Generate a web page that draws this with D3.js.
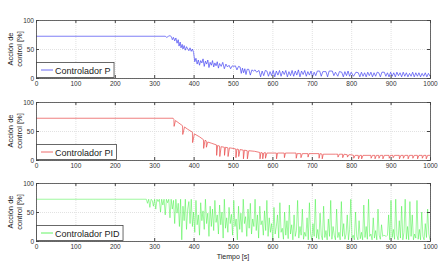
<!DOCTYPE html>
<html>
<head>
<meta charset="utf-8">
<script src="https://cdn.jsdelivr.net/npm/d3@7"></script>
<style>
body { margin: 0; background: #fff; }
svg { display: block; font-family: "Liberation Sans", Arial, sans-serif; }
</style>
</head>
<body>
<div id="plot"></div>
<script>
var w = 440;
var h = 272;

var xTicks = [0, 100, 200, 300, 400, 500, 600, 700, 800, 900, 1000];
var yTicks = [0, 50, 100];
var legendLabels = ["Controlador P", "Controlador PI", "Controlador PID"];
var yLabel = ["Acción de", "control [%]"];
var xLabel = "Tiempo [s]";

// controlador P: [tiempo, accion]
var pData = [
    [0,72],[328,72],[332,70],[336,72],[340,73],[344,71],[346,66],[349,70],[352,64],[355,69],
    [358,60],[361,66],[363,55],[366,62],[368,52],[371,58],[373,50],[376,56],[379,48],[382,54],
    [385,50],[388,47],[391,52],[394,46],[397,50],[400,44],[403,28],[406,34],[409,24],[412,31],
    [415,22],[418,30],[421,26],[424,33],[427,20],[430,29],[433,24],[436,31],[439,18],[442,27],
    [445,22],[448,30],[451,19],[454,26],[457,21],[460,28],[463,17],[466,25],[470,20],[474,27],
    [478,16],[482,24],[486,19],[490,22],[494,16],[498,21],[502,20],[506,21],[510,14],[514,20],
    [518,19],[521,8],[524,17],[527,9],[530,16],[533,6],[536,15],[540,15],[544,5],[548,14],
    [552,12],[556,14],[560,10],[566,13],[570,2],[574,12],[578,4],[582,13],[586,12],[590,3],
    [594,11],[598,4],[602,13],[606,2],[610,12],[614,5],[618,13],[622,3],[626,12],[630,6],
    [634,13],[638,2],[642,11],[646,4],[650,13],[654,3],[658,12],[662,5],[666,14],[670,2],
    [674,12],[678,6],[682,13],[686,3],[690,11],[694,5],[698,12],[702,2],[706,10],[710,4],
    [714,12],[720,12],[724,3],[728,11],[736,11],[740,2],[744,12],[752,12],[756,4],[760,10],
    [766,3],[770,11],[776,10],[780,2],[784,11],[788,4],[792,12],[796,3],[800,10],[806,3],
    [812,10],[818,9],[822,2],[826,10],[830,3],[834,9],[838,2],[842,10],[846,4],[850,10],
    [854,2],[858,9],[862,3],[866,10],[870,9],[874,2],[878,10],[884,10],[888,3],[892,9],
    [896,2],[900,10],[904,3],[908,9],[912,2],[916,10],[920,4],[924,9],[928,2],[932,10],
    [936,3],[940,9],[944,2],[948,8],[952,3],[956,10],[960,2],[964,9],[968,3],[972,9],
    [976,2],[980,8],[984,3],[988,9],[992,2],[996,8],[1000,3]
];

// controlador PI: [tiempo, accion]
var piData = [
    [0,72],[348,72],[350,70],[350.5,58],[354,68],[372,59],[372.5,44],[377,57],[385,53],[397,48],
    [397.5,30],[402,45],[415,40],[425,35],[425.5,20],[429,34],[432,33],[432.5,22],[436,31],[445,29],
    [458,26],[458.5,8],[461,25],[466,24],[466.5,6],[470,23],[478,22],[478.5,8],[481,22],[487,21],
    [487.5,6],[491,21],[500,20],[507,19],[507.5,4],[510,19],[514,18],[514.5,6],[518,18],[526,17],
    [526.5,2],[529,17],[536,16],[536.5,2],[540,16],[555,15],[568,13],[568.5,2],[571,13],[575,12],
    [575.5,2],[578,12],[582,13],[582.5,3],[586,12],[600,12],[610,12],[610.5,2],[613,12],[630,12],
    [630.5,4],[633,12],[660,12],[660.5,3],[663,11],[672,11],[672.5,4],[676,11],[690,11],[690.5,5],
    [693,11],[718,11],[718.5,3],[721,11],[726,10],[726.5,2],[729,10],[760,10],[766,10],[766.5,5],
    [770,10],[778,10],[778.5,4],[782,10],[790,9],[790.5,5],[794,9],[800,9],[806,8],[806.5,3],
    [810,8],[818,8],[818.5,2],[822,8],[826,8],[826.5,2],[830,8],[850,8],[850.5,3],[854,8],
    [860,8],[860.5,2],[864,8],[870,8],[870.5,3],[874,8],[880,8],[880.5,2],[884,8],[896,8],
    [896.5,3],[900,8],[906,8],[906.5,4],[910,8],[922,8],[922.5,2],[926,8],[932,8],[932.5,3],
    [936,8],[944,8],[944.5,2],[948,8],[956,8],[956.5,3],[960,8],[968,8],[968.5,2],[972,8],
    [980,8],[980.5,3],[984,8],[990,8],[990.5,2],[994,8],[1000,8]
];

// controlador PID: 72 % hasta 280 s, luego muestras cada 3 s
var pidStart = 280;
var pidStep = 3;
var pidValues = [
    72,65,72,58,72,70,60,72,55,72,68,72,50,72,62,72,45,72,66,72,
    40,72,55,70,30,72,48,65,25,72,2,60,35,72,20,55,68,30,72,25,
    50,15,70,28,45,10,66,35,52,20,72,30,48,8,60,25,55,18,70,32,
    45,12,62,28,50,5,72,22,40,15,58,30,46,10,70,25,38,2,60,20,
    48,15,72,30,42,8,55,22,65,12,38,25,72,18,45,5,60,28,35,10,
    52,18,70,8,40,15,30,2,58,12,25,45,5,66,15,22,3,50,10,35,
    4,62,12,28,2,45,8,18,70,5,25,10,55,3,15,8,40,2,66,12,
    2,30,8,72,5,20,3,48,10,2,60,6,18,2,38,8,70,3,25,10,
    2,55,6,15,2,68,8,30,3,12,45,2,20,72,5,10,2,50,8,2,
    35,4,15,2,62,6,25,3,72,8,12,2,40,5,18,2,55,10,3,28,
    8,10,9,8,10,45,2,70,6,20,3,72,10,2,35,5,60,2,15,72,
    3,25,2,68,8,45,2,12,5,70,3,20,2,50,8,2,30,6,55,12,
    2
];

var pidData = [[0, 72]].concat(pidValues.map(function(v, i) {
    return [pidStart + i * pidStep, v];
}));

var series = [pData, piData, pidData];
var colors = ["#4646f2", "#e84848", "#3cf03c"];
var widths = [0.7, 0.7, 0.5];

var left = 36, right = 430;
var tops = [20, 102, 183];
var ph = 58;

var svg = d3.select("#plot")
            .append("svg")
            .attr("width", w)
            .attr("height", h);

var xScale = d3.scaleLinear().domain([0, 1000]).range([left, right]);

tops.forEach(function(top, k) {
    var yScale = d3.scaleLinear().domain([0, 100]).range([top + ph, top]);
    var g = svg.append("g");

    // grid
    g.append("g")
     .attr("class", "grid")
     .attr("transform", "translate(0," + (top + ph) + ")")
     .call(d3.axisBottom(xScale).tickValues(xTicks).tickSize(-ph).tickFormat(""));
    g.append("g")
     .attr("class", "grid")
     .attr("transform", "translate(" + left + ",0)")
     .call(d3.axisLeft(yScale).tickValues(yTicks).tickSize(-(right - left)).tickFormat(""));
    g.selectAll(".grid .domain").remove();
    g.selectAll(".grid line").attr("stroke", "#e2e2e2").attr("stroke-dasharray", "1,1");

    // data line
    var line = d3.line()
                 .x(function(d) { return xScale(d[0]); })
                 .y(function(d) { return yScale(d[1]); });
    g.append("path")
     .datum(series[k])
     .attr("d", line)
     .attr("fill", "none")
     .attr("stroke", colors[k])
     .attr("stroke-width", widths[k]);

    // axes (inward ticks, MATLAB style)
    var axes = g.append("g").attr("class", "axes");
    axes.append("g")
     .attr("transform", "translate(0," + (top + ph) + ")")
     .call(d3.axisBottom(xScale).tickValues(xTicks).tickSize(-3).tickPadding(3).tickFormat(d3.format("d")));
    axes.append("g")
     .attr("transform", "translate(" + left + ",0)")
     .call(d3.axisLeft(yScale).tickValues(yTicks).tickSize(-3).tickPadding(2).tickFormat(d3.format("d")));
    axes.append("g")
     .attr("transform", "translate(0," + top + ")")
     .call(d3.axisTop(xScale).tickValues(xTicks).tickSize(-3).tickFormat(""));
    axes.append("g")
     .attr("transform", "translate(" + right + ",0)")
     .call(d3.axisRight(yScale).tickValues(yTicks).tickSize(-3).tickFormat(""));

    axes.selectAll(".domain").attr("stroke", "#444").attr("stroke-width", 0.8);
    axes.selectAll(".tick line").attr("stroke", "#444");
    axes.selectAll(".tick text")
     .attr("font-size", "6.5px")
     .attr("font-family", "Liberation Sans, Arial, sans-serif")
     .attr("fill", "#333");

    // y label
    var cy = top + ph / 2;
    g.append("text")
     .text(yLabel[0])
     .attr("transform", "translate(13," + cy + ") rotate(-90)")
     .attr("text-anchor", "middle")
     .attr("font-size", "7.5px")
     .attr("fill", "#222");
    g.append("text")
     .text(yLabel[1])
     .attr("transform", "translate(21.5," + cy + ") rotate(-90)")
     .attr("text-anchor", "middle")
     .attr("font-size", "7.5px")
     .attr("fill", "#222");

    // legend
    var bottom = top + ph;
    var lg = g.append("g");
    var box = lg.append("rect")
     .attr("x", left + 0.5)
     .attr("y", bottom - 15.5)
     .attr("height", 15)
     .attr("fill", "#fff")
     .attr("stroke", "#444")
     .attr("stroke-width", 0.8);
    lg.append("line")
     .attr("x1", left + 5).attr("x2", left + 17)
     .attr("y1", bottom - 8).attr("y2", bottom - 8)
     .attr("stroke", colors[k])
     .attr("stroke-width", 0.8);
    var txt = lg.append("text")
     .text(legendLabels[k])
     .attr("x", left + 19)
     .attr("y", bottom - 4.5)
     .attr("font-size", "9px")
     .attr("fill", "#222");
    box.attr("width", txt.node().getComputedTextLength() + 22);
});

svg.append("text")
   .text(xLabel)
   .attr("x", (left + right) / 2)
   .attr("y", 258.5)
   .attr("text-anchor", "middle")
   .attr("font-size", "7px")
   .attr("fill", "#222");
</script>
</body>
</html>
